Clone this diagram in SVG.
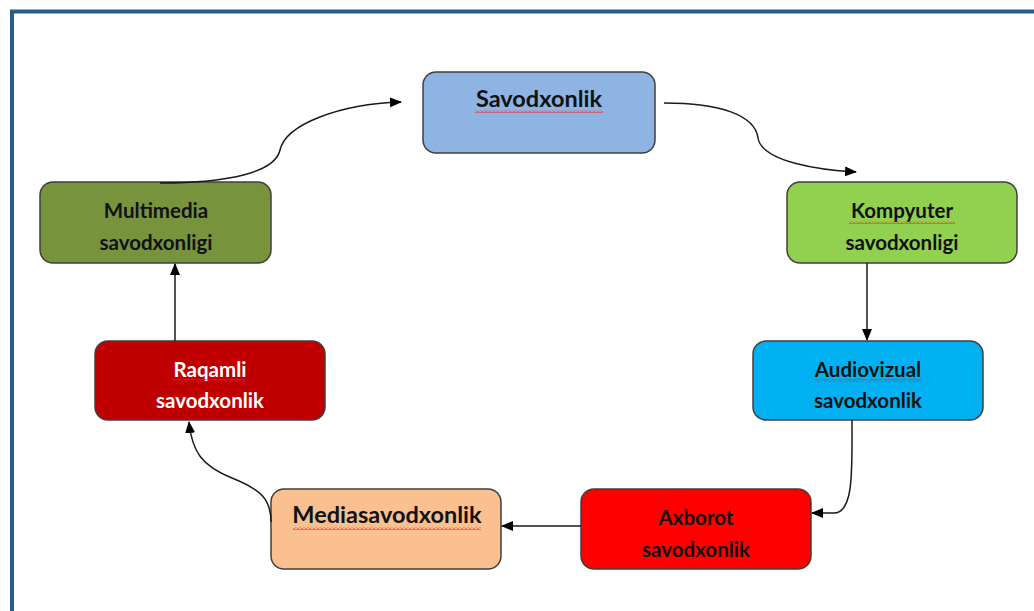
<svg xmlns="http://www.w3.org/2000/svg" width="1034" height="611" viewBox="0 0 1034 611">
<style>
.node{stroke:#3f3f3f;stroke-width:1.5}
.t{font-family:Lato,"Liberation Sans",sans-serif;font-weight:bold;font-size:20.5px;text-anchor:middle;fill:#111111}
.tb{font-size:23.5px}
.w{fill:#ffffff}
.c{fill:none;stroke:#1a1a1a;stroke-width:1.5;marker-end:url(#ah)}
.wave{fill:url(#zig)}
</style>
<defs>
<marker id="ah" viewBox="0 0 12 10" refX="11" refY="5" markerWidth="12" markerHeight="10" markerUnits="userSpaceOnUse" orient="auto">
<path d="M0,0 L12,5 L0,10 z" fill="#000"/>
</marker>
<pattern id="zig" width="4" height="3" patternUnits="userSpaceOnUse">
<path d="M0,2.5 L2,0.5 L4,2.5" fill="none" stroke="#ff1a1a" stroke-width="1"/>
</pattern>
</defs>
<rect x="0" y="0" width="1034" height="611" fill="#fff"/>
<path d="M12,611 L12,11.5 L1034,11.5" fill="none" stroke="#2c5a8f" stroke-width="4"/>

<g id="n-savodxonlik">
<rect class="node" x="423" y="72" width="232" height="81" rx="13" fill="#8eb4e3"/>
<text class="t tb" x="539" y="107">Savodxonlik</text>
<rect class="wave" x="475" y="110" width="128" height="3"/>
</g>
<g id="n-kompyuter">
<rect class="node" x="787" y="182" width="230" height="81" rx="13" fill="#92d050"/>
<text class="t" x="902" y="218">Kompyuter</text>
<rect class="wave" x="849" y="221" width="106" height="3"/>
<text class="t" x="902" y="250">savodxonligi</text>
</g>
<g id="n-audiovizual">
<rect class="node" x="753" y="341" width="230" height="79" rx="13" fill="#00b0f0"/>
<text class="t" x="868" y="377">Audiovizual</text>
<rect class="wave" x="815" y="379" width="106" height="3"/>
<text class="t" x="868" y="408">savodxonlik</text>
</g>
<g id="n-axborot">
<rect class="node" x="581" y="489" width="230" height="80" rx="13" fill="#ff0000"/>
<text class="t" x="696" y="525">Axborot</text>
<text class="t" x="696" y="557">savodxonlik</text>
</g>
<g id="n-mediasavodxonlik">
<rect class="node" x="271" y="489" width="230" height="80" rx="13" fill="#fac090"/>
<text class="t tb" x="387" y="523">Mediasavodxonlik</text>
<rect class="wave" x="293" y="527" width="188" height="3"/>
</g>
<g id="n-raqamli">
<rect class="node" x="95" y="341" width="230" height="79" rx="13" fill="#c00000"/>
<text class="t w" x="210" y="377">Raqamli</text>
<rect class="wave" x="172" y="379" width="74" height="3"/>
<text class="t w" x="210" y="408">savodxonlik</text>
</g>
<g id="n-multimedia">
<rect class="node" x="40" y="182" width="231" height="81" rx="13" fill="#77933c"/>
<text class="t" x="156" y="218">Multimedia</text>
<text class="t" x="156" y="250">savodxonligi</text>
</g>

<g id="connectors">
<path class="c" d="M664,103 C720,103 755,115 758,138 C762,162 820,170 856,172"/>
<path class="c" d="M867,263 L867,340"/>
<path class="c" d="M852,420 C852,470 854,513 834,513 L812,513"/>
<path class="c" d="M581,526 L502,526"/>
<path class="c" d="M271,522 C271,500 262,490 232,478 C202,466 192,452 189,422"/>
<path class="c" d="M175,341 L175,264"/>
<path class="c" d="M160,183 C230,183 275,172 280,150 C286,124 340,104 401,102"/>
</g>
</svg>
